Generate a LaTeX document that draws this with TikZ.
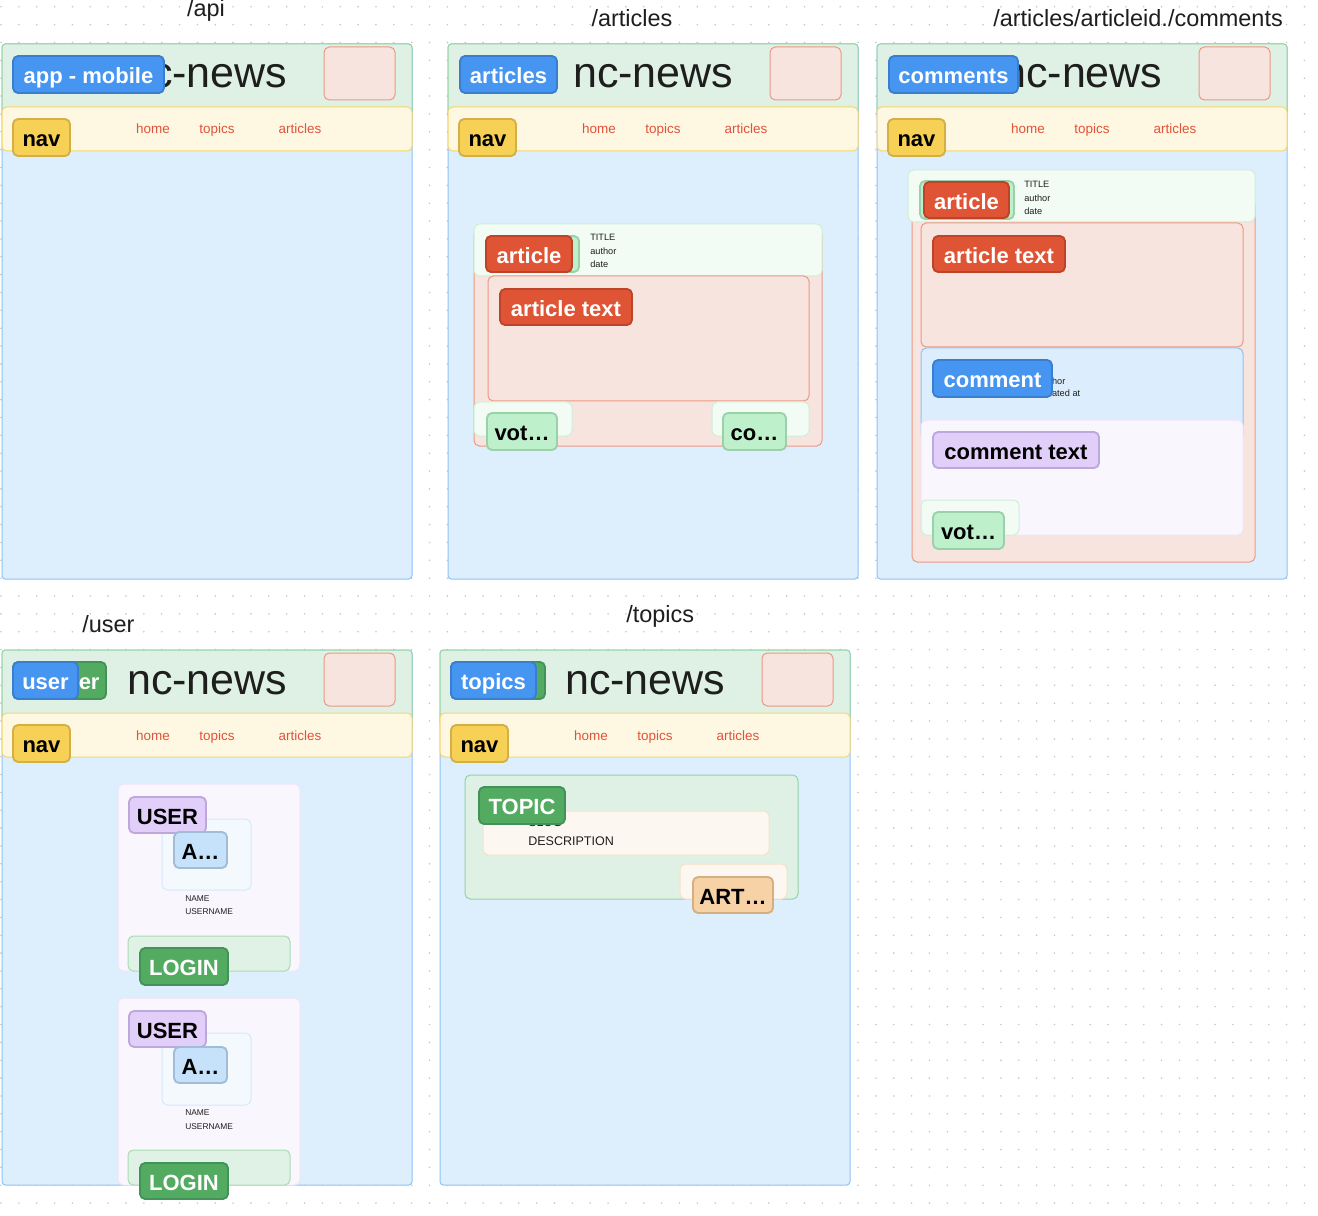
\documentclass[tikz,border=0pt]{standalone}
\usepackage{fontspec}
\setmainfont{Liberation Sans}
\definecolor{dotc}{HTML}{C8C8C8}
\definecolor{bodyf}{HTML}{DDEEFD}
\definecolor{bodyd}{HTML}{90C4F5}
\definecolor{headf}{HTML}{DFF1E4}
\definecolor{headd}{HTML}{95D3A7}
\definecolor{navf}{HTML}{FEF8E3}
\definecolor{navd}{HTML}{F4D56E}
\definecolor{pinkf}{HTML}{F8E4DE}
\definecolor{pinkd}{HTML}{EB9A86}
\definecolor{redf}{HTML}{DF5434}
\definecolor{redd}{HTML}{BD4429}
\definecolor{bluef}{HTML}{4595F1}
\definecolor{blued}{HTML}{3A7ED0}
\definecolor{greenf}{HTML}{52AB61}
\definecolor{greend}{HTML}{43925A}
\definecolor{yelf}{HTML}{F7D155}
\definecolor{yeld}{HTML}{D4AF46}
\definecolor{lgf}{HTML}{F3FBF5}
\definecolor{lgd}{HTML}{CDEFD6}
\definecolor{votef}{HTML}{BEF0CC}
\definecolor{voted}{HTML}{9BD1AA}
\definecolor{purf}{HTML}{E1CFF9}
\definecolor{purd}{HTML}{BDA8DD}
\definecolor{lpf}{HTML}{FAF6FE}
\definecolor{lpd}{HTML}{EEE5FB}
\definecolor{avf}{HTML}{F4F9FE}
\definecolor{avd}{HTML}{D6E9FB}
\definecolor{abf}{HTML}{C6E2FB}
\definecolor{abd}{HTML}{A2BCD6}
\definecolor{loginf}{HTML}{E0F2E5}
\definecolor{logind}{HTML}{A8DBB6}
\definecolor{descf}{HTML}{FCF7F1}
\definecolor{descd}{HTML}{F6E2C6}
\definecolor{artf}{HTML}{F6D2A6}
\definecolor{artd}{HTML}{D5AE82}
\definecolor{linkc}{HTML}{E0533A}
\definecolor{ink}{HTML}{1E1E1E}
\definecolor{cbf}{HTML}{DCEEFD}
\definecolor{cbd}{HTML}{8FC2F4}
\newcommand\bx[7]{\node[#6, minimum width={(#4-#2)*0.75pt}, minimum height={(#5-#3)*0.75pt}] (#1) at ({(#2+#4)/2},{(#3+#5)/2}) {#7};}
\newcommand\panelframe[3]{%
\begin{scope}[shift={(#2,#3)}]
\bx{#1body}{0}{0}{410}{535}{boxbase, rounded corners=2.5pt, fill=bodyf, draw=bodyd}{}
\bx{#1head}{0}{0}{410}{75}{boxbase, rounded corners=2.5pt, fill=headf, draw=headd}{}
\bx{#1nav}{0}{63}{410}{107}{boxbase, rounded corners=3.5pt, fill=navf, draw=navd}{}
\bx{#1pink}{322}{3}{393}{56}{boxbase, rounded corners=4pt, fill=pinkf, draw=pinkd}{}
\node[title] (#1title) at (125,44) {nc-news};
\bx{#1navb}{11}{75}{68}{112}{badge, fill=yelf, draw=yeld, text=black}{nav}
\node[link] (#1home) at (151,90) {home};
\node[link] (#1topics) at (215,90) {topics};
\node[link] (#1arts) at (298,90) {articles};
\end{scope}}
\begin{document}
\begin{tikzpicture}[x=0.75pt,y=-0.75pt,
  boxbase/.style={inner sep=0pt, outer sep=0pt, line width=0.75pt},
  badge/.style={boxbase, rounded corners=3.8pt, line width=1.4pt, text height=13.9pt, text depth=0pt, font=\fontsize{16.5}{18}\selectfont\bfseries},
  title/.style={anchor=base west, inner sep=0pt, text=ink, font=\fontsize{32.25}{38}\selectfont},
  link/.style={anchor=base, inner sep=0pt, text=linkc, font=\fontsize{10.1}{12}\selectfont},
  ptitle/.style={inner sep=0pt, text=ink, font=\fontsize{17.6}{20}\selectfont},
  small/.style={anchor=base west, inner sep=0pt, text=ink, font=\fontsize{6.9}{8}\selectfont},
  tiny/.style={anchor=base west, inner sep=0pt, text=ink, font=\fontsize{6.3}{8}\selectfont}]
\useasboundingbox (0,0) rectangle (1318,1216);
\fill[white] (0,0) rectangle (1318,1216);
\foreach \i in {0,...,73}{\foreach \j in {0,...,67}{\fill[dotc] ({1+17.855*\i},{6.8+17.855*\j}) circle[radius=0.9];}}
% page titles
\node[ptitle, anchor=base] (t1) at (206,17) {/api};
\node[ptitle, anchor=base] (t2) at (632,27) {/articles};
\node[ptitle, anchor=base west] (t3) at (993,27) {/articles/articleid./comments};
\node[ptitle, anchor=base west] (t4) at (82,632) {/user};
\node[ptitle, anchor=base west] (t5) at (626,622) {/topics};
% panels
\panelframe{pa}{2}{44}
\panelframe{pb}{448}{44}
\panelframe{pc}{877}{44}
\panelframe{pd}{2}{650}
\panelframe{pe}{440}{650}
% header badges
\bx{pabadge}{13}{56}{164}{93}{badge, fill=bluef, draw=blued, text=white}{app - mobile}
\bx{pbbadge}{460}{56}{557}{93}{badge, fill=bluef, draw=blued, text=white}{articles}
\bx{pcbadge}{889}{56}{1018}{93}{badge, fill=bluef, draw=blued, text=white}{comments}
\bx{pdgreen}{13}{662}{106}{699}{badge, fill=greenf, draw=greend, text=white}{}
\node[anchor=base west, inner sep=0pt, text=white, font=\fontsize{16.5}{18}\selectfont\bfseries] (pdgreentext) at (78.5,689.7) {er};
\bx{pdbadge}{13}{662}{78}{699}{badge, fill=bluef, draw=blued, text=white}{user}
\bx{pegreen}{451}{662}{545}{699}{badge, fill=greenf, draw=greend, text=white}{}
\bx{pebadge}{451}{662}{536}{699}{badge, fill=bluef, draw=blued, text=white}{topics}
% ---- articles panel interior
\bx{bcont}{474}{230}{822}{446}{boxbase, rounded corners=4pt, fill=pinkf, draw=pinkd}{}
\bx{bahead}{474}{224}{822}{276}{boxbase, rounded corners=4pt, fill=lgf, draw=lgd}{}
\bx{btext}{488}{276}{809}{401}{boxbase, rounded corners=4pt, fill=pinkf, draw=pinkd}{}
\bx{bagreen}{486}{236}{579}{272}{badge, fill=votef, draw=voted}{}
\bx{bart}{486}{236}{572}{272}{badge, fill=redf, draw=redd, text=white}{article}
\node[small] (btitle) at (590,241) {TITLE};
\node[small] (bauthor) at (590,255) {author};
\node[small] (bdate) at (590,268) {date};
\bx{bartt}{500}{289}{632}{325}{badge, fill=redf, draw=redd, text=white}{article text}
\bx{bvbox}{474}{402}{572}{436}{boxbase, rounded corners=4pt, fill=lgf, draw=lgd}{}
\bx{bcbox}{712}{402}{809}{436}{boxbase, rounded corners=4pt, fill=lgf, draw=lgd}{}
\bx{bvote}{487}{413}{557}{450}{badge, fill=votef, draw=voted, text=black}{vot…}
\bx{bcom}{723}{413}{786}{450}{badge, fill=votef, draw=voted, text=black}{co…}
% ---- comments panel interior
\bx{ccont}{912}{200}{1255}{562}{boxbase, rounded corners=4pt, fill=pinkf, draw=pinkd}{}
\bx{cahead}{908}{170}{1255}{222}{boxbase, rounded corners=4pt, fill=lgf, draw=lgd}{}
\bx{cagreen}{920}{181}{1014}{219}{badge, fill=votef, draw=voted}{}
\bx{cart}{924}{182}{1009}{218}{badge, fill=redf, draw=redd, text=white}{article}
\node[small] (ctitle) at (1024,188) {TITLE};
\node[small] (cauthor) at (1024,202) {author};
\node[small] (cdate) at (1024,215) {date};
\bx{ctext}{921}{223}{1243}{347}{boxbase, rounded corners=4pt, fill=pinkf, draw=pinkd}{}
\bx{cartt}{933}{236}{1065}{272}{badge, fill=redf, draw=redd, text=white}{article text}
\bx{cbox}{921}{348}{1243}{440}{boxbase, rounded corners=4pt, fill=cbf, draw=cbd}{}
\node[small] (cauth2) at (1039,384) {author};
\node[small] (ccreated) at (1039,397) {created at};
\bx{ccomment}{933}{360}{1052}{397}{badge, fill=bluef, draw=blued, text=white}{comment}
\bx{ctbox}{921}{420}{1243}{535}{boxbase, rounded corners=4pt, fill=lpf, draw=lpd}{}
\bx{ctbadge}{933}{432}{1099}{468}{badge, fill=purf, draw=purd, text=black}{comment text}
\bx{cvbox}{921}{500}{1019}{535}{boxbase, rounded corners=4pt, fill=lgf, draw=lgd}{}
\bx{cvote}{933}{512}{1004}{549}{badge, fill=votef, draw=voted, text=black}{vot…}
% ---- user panel interior
\bx{dcard1}{118}{784}{300}{971}{boxbase, rounded corners=4pt, fill=lpf, draw=lpd}{}
\bx{dav1}{162}{819}{251}{890}{boxbase, rounded corners=4pt, fill=avf, draw=avd}{}
\bx{duser1}{129}{797}{206}{833}{badge, fill=purf, draw=purd, text=black}{USER}
\bx{da1}{174}{832}{227}{868}{badge, fill=abf, draw=abd, text=black}{A…}
\node[tiny] (dname1) at (185,901) {NAME};
\node[tiny] (duname1) at (185,914) {USERNAME};
\bx{dlbox1}{128}{936}{290}{971}{boxbase, rounded corners=4pt, fill=loginf, draw=logind}{}
\bx{dlogin1}{140}{948}{228}{985}{badge, fill=greenf, draw=greend, text=white}{LOGIN}
\bx{dcard2}{118}{998}{300}{1185}{boxbase, rounded corners=4pt, fill=lpf, draw=lpd}{}
\bx{dav2}{162}{1033}{251}{1105}{boxbase, rounded corners=4pt, fill=avf, draw=avd}{}
\bx{duser2}{129}{1011}{206}{1047}{badge, fill=purf, draw=purd, text=black}{USER}
\bx{da2}{174}{1047}{227}{1083}{badge, fill=abf, draw=abd, text=black}{A…}
\node[tiny] (dname2) at (185,1115) {NAME};
\node[tiny] (duname2) at (185,1129) {USERNAME};
\bx{dlbox2}{128}{1150}{290}{1185}{boxbase, rounded corners=4pt, fill=loginf, draw=logind}{}
\bx{dlogin2}{140}{1163}{228}{1199}{badge, fill=greenf, draw=greend, text=white}{LOGIN}
% ---- topics panel interior
\bx{etopic}{465}{775}{798}{899}{boxbase, rounded corners=4pt, fill=headf, draw=headd}{}
\bx{edesc}{483}{811}{769}{855}{boxbase, rounded corners=4pt, fill=descf, draw=descd}{}
\node[anchor=base west, inner sep=0pt, text=ink, font=\fontsize{9.4}{11}\selectfont] (eslug) at (528,826.5) {SLUG};
\node[anchor=base west, inner sep=0pt, text=ink, font=\fontsize{9.4}{11}\selectfont] (edescr) at (528,845) {DESCRIPTION};
\bx{etbadge}{479}{787}{565}{824}{badge, fill=greenf, draw=greend, text=white}{TOPIC}
\bx{eabox}{680}{864}{787}{899}{boxbase, rounded corners=4pt, fill=descf, draw=descd}{}
\bx{eart}{693}{877}{773}{913}{badge, fill=artf, draw=artd, text=black}{ART…}
\end{tikzpicture}
\end{document}
